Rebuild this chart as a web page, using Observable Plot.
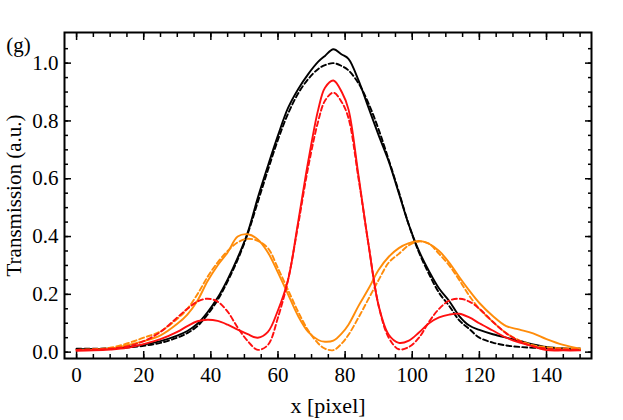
<!DOCTYPE html>
<html><head><meta charset="utf-8">
<script src="https://cdn.jsdelivr.net/npm/d3@7"></script>
<script src="https://cdn.jsdelivr.net/npm/@observablehq/plot@0.6"></script>
<style>body{margin:0;background:#fff} svg{font-family:"Liberation Serif",serif}</style>
</head><body><div id="chart"></div>
<script>
// x positions (pixel) at which the curves were read
const xs = [0, 5, 10, 15, 20, 25, 30, 33, 36, 39, 42, 45, 48, 51, 54, 57, 60, 63, 66, 69, 72, 74, 76.5, 79, 81, 84, 87, 90, 93, 96, 99, 102, 105, 108, 111, 114, 117, 120, 124, 128, 132, 136, 140, 145, 150];
// black: measured (solid) and fit (dashed)
const blackSolid = [0.010, 0.011, 0.013, 0.018, 0.026, 0.038, 0.057, 0.073, 0.098, 0.138, 0.188, 0.252, 0.327, 0.415, 0.535, 0.645, 0.75, 0.845, 0.91, 0.962, 1.005, 1.025, 1.048, 1.03, 1.015, 0.94, 0.845, 0.75, 0.66, 0.55, 0.44, 0.35, 0.28, 0.22, 0.177, 0.125, 0.092, 0.077, 0.062, 0.05, 0.039, 0.027, 0.018, 0.013, 0.012];
const blackDashed = [0.012, 0.012, 0.013, 0.016, 0.022, 0.032, 0.05, 0.066, 0.09, 0.13, 0.18, 0.245, 0.32, 0.41, 0.52, 0.63, 0.735, 0.825, 0.895, 0.945, 0.98, 0.993, 1.0, 0.99, 0.975, 0.93, 0.86, 0.77, 0.665, 0.555, 0.44, 0.345, 0.27, 0.205, 0.16, 0.11, 0.08, 0.05, 0.033, 0.023, 0.018, 0.015, 0.013, 0.012, 0.012];
// red
const redSolid = [0.005, 0.006, 0.009, 0.015, 0.028, 0.045, 0.07, 0.09, 0.107, 0.112, 0.108, 0.095, 0.078, 0.062, 0.05, 0.07, 0.145, 0.25, 0.45, 0.66, 0.84, 0.915, 0.94, 0.9, 0.84, 0.61, 0.37, 0.16, 0.06, 0.032, 0.04, 0.068, 0.1, 0.12, 0.13, 0.133, 0.12, 0.1, 0.075, 0.05, 0.033, 0.02, 0.007, 0.006, 0.006];
const redDashed = [0.008, 0.009, 0.012, 0.02, 0.038, 0.07, 0.12, 0.15, 0.175, 0.185, 0.175, 0.14, 0.085, 0.038, 0.008, 0.025, 0.12, 0.25, 0.44, 0.64, 0.8, 0.87, 0.898, 0.865, 0.81, 0.6, 0.37, 0.16, 0.05, 0.01, 0.018, 0.05, 0.105, 0.15, 0.178, 0.185, 0.175, 0.15, 0.105, 0.065, 0.038, 0.02, 0.012, 0.009, 0.008];
// orange
const orangeSolid = [0.007, 0.008, 0.012, 0.024, 0.038, 0.058, 0.098, 0.13, 0.178, 0.245, 0.3, 0.345, 0.4, 0.408, 0.39, 0.345, 0.275, 0.2, 0.125, 0.07, 0.042, 0.036, 0.04, 0.065, 0.095, 0.16, 0.22, 0.285, 0.33, 0.36, 0.377, 0.385, 0.375, 0.35, 0.31, 0.26, 0.213, 0.17, 0.125, 0.09, 0.078, 0.065, 0.045, 0.025, 0.012];
const orangeDashed = [0.008, 0.01, 0.015, 0.03, 0.05, 0.072, 0.115, 0.15, 0.2, 0.26, 0.31, 0.35, 0.38, 0.392, 0.385, 0.36, 0.29, 0.215, 0.14, 0.075, 0.03, 0.012, 0.007, 0.03, 0.06, 0.12, 0.185, 0.25, 0.31, 0.34, 0.37, 0.383, 0.375, 0.34, 0.3, 0.25, 0.195, 0.15, 0.105, 0.066, 0.04, 0.024, 0.017, 0.013, 0.012];

const xMajor = [0, 20, 40, 60, 80, 100, 120, 140];
const xMinor = d3.range(0, 151, 5);
const yMajor = [0, 0.2, 0.4, 0.6, 0.8, 1.0];
const yMinor = d3.range(0, 22).map(i => i * 0.05);

const series = [
  {name: "black fit", values: blackDashed, color: "black", dash: "5,3"},
  {name: "black", values: blackSolid, color: "black", dash: null},
  {name: "orange fit", values: orangeDashed, color: "#ff8c0a", dash: "5,3"},
  {name: "orange", values: orangeSolid, color: "#ff8c0a", dash: null},
  {name: "red fit", values: redDashed, color: "#ff1010", dash: "5,3"},
  {name: "red", values: redSolid, color: "#ff1010", dash: null}
];

const lineMarks = series.map(s => Plot.line(xs.map((x, i) => ({x, y: s.values[i]})), {
  x: "x", y: "y", stroke: s.color, strokeWidth: 1.9, strokeDasharray: s.dash, curve: "catmull-rom"
}));

const noText = () => "";
const chart = Plot.plot({
  width: 623, height: 420,
  marginLeft: 64, marginRight: 32, marginTop: 32, marginBottom: 62,
  style: {fontFamily: "'Liberation Serif', serif", fontSize: "21px", background: "white", color: "black"},
  x: {domain: [-3.6, 153.4]},
  y: {domain: [-0.022, 1.106]},
  marks: [
    // tick labels and axis titles
    Plot.axisX(xMajor, {anchor: "bottom", tickSize: 0, tickPadding: 9, fontSize: 21, label: null}),
    Plot.axisX({anchor: "bottom", ticks: [], label: "x [pixel]", labelAnchor: "center", labelOffset: 54, labelArrow: "none", fontSize: 22}),
    Plot.axisY(yMajor, {anchor: "left", tickSize: 0, tickPadding: 6, fontSize: 21, tickFormat: d3.format(".1f"), label: "Transmission (a.u.)", labelAnchor: "center", labelOffset: 58, labelArrow: "none"}),
    // inward ticks on all four sides
    Plot.axisX(xMajor, {anchor: "bottom", tickSize: 7, dy: -7, tickFormat: noText, label: null, strokeWidth: 1.5}),
    Plot.axisX(xMajor, {anchor: "top", tickSize: 7, dy: 7, tickFormat: noText, label: null, strokeWidth: 1.5}),
    Plot.axisX(xMinor, {anchor: "bottom", tickSize: 4, dy: -4, tickFormat: noText, label: null, strokeWidth: 1.5}),
    Plot.axisX(xMinor, {anchor: "top", tickSize: 4, dy: 4, tickFormat: noText, label: null, strokeWidth: 1.5}),
    Plot.axisY(yMajor, {anchor: "left", tickSize: 7, dx: 7, tickFormat: noText, label: null, strokeWidth: 1.5}),
    Plot.axisY(yMajor, {anchor: "right", tickSize: 7, dx: -7, tickFormat: noText, label: null, strokeWidth: 1.5}),
    Plot.axisY(yMinor, {anchor: "left", tickSize: 4, dx: 4, tickFormat: noText, label: null, strokeWidth: 1.5}),
    Plot.axisY(yMinor, {anchor: "right", tickSize: 4, dx: -4, tickFormat: noText, label: null, strokeWidth: 1.5}),
    ...lineMarks,
    Plot.frame({stroke: "black", strokeWidth: 2}),
    Plot.text(["(g)"], {frameAnchor: "top-left", dx: -46, dy: 5, fontSize: 21, textAnchor: "middle"})
  ]
});
document.getElementById("chart").appendChild(chart);
</script>
</body></html>
